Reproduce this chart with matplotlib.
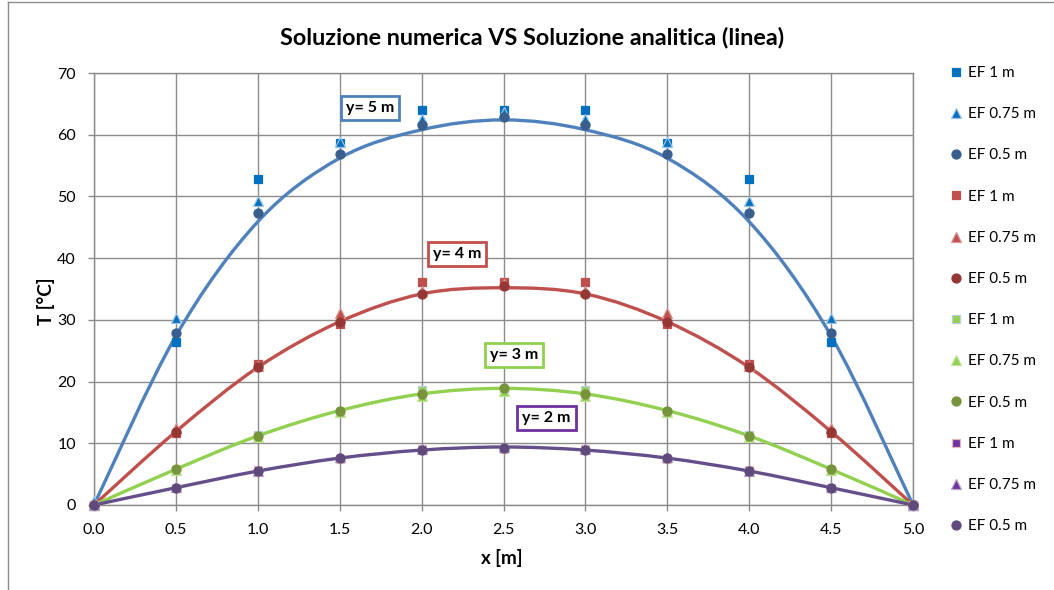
import matplotlib
matplotlib.use("Agg")
import matplotlib.pyplot as plt
from matplotlib.path import Path
from matplotlib.patches import PathPatch
from matplotlib.lines import Line2D

plt.rcParams['font.family'] = ['Lato', 'DejaVu Sans']

# Nodes along x [m]
x_nodes = [0.0, 0.5, 1.0, 1.5, 2.0, 2.5, 3.0, 3.5, 4.0, 4.5, 5.0]

# Analytic solution (smooth lines), T [°C]
an_y5 = [0, 27.4, 45.9, 56.2, 60.8, 62.4, 60.8, 56.2, 45.9, 27.4, 0]
an_y4 = [0, 11.9, 22.3, 29.7, 34.2, 35.2, 34.2, 29.7, 22.3, 11.9, 0]
an_y3 = [0, 5.8, 11.2, 15.3, 18.0, 18.9, 18.0, 15.3, 11.2, 5.8, 0]
an_y2 = [0, 2.8, 5.5, 7.6, 8.9, 9.4, 8.9, 7.6, 5.5, 2.8, 0]

# Finite element results for the three mesh sizes
ef1_y5 = [0, 26.4, 52.8, 58.6, 64.0, 64.0, 64.0, 58.6, 52.8, 26.4, 0]
ef075_y5 = [0.7, 30.3, 49.3, 58.8, 62.5, 63.6, 62.5, 58.8, 49.3, 30.3, 0]
ef05_y5 = [0, 27.8, 47.3, 56.9, 61.6, 62.9, 61.6, 56.9, 47.3, 27.8, 0]

ef1_y4 = [0, 11.6, 22.9, 29.4, 36.2, 36.2, 36.2, 29.4, 22.9, 11.6, 0]
ef075_y4 = [0, 12.4, 22.6, 31.1, 34.6, 35.8, 34.6, 31.1, 22.6, 12.4, 0]
ef05_y4 = [0, 11.9, 22.3, 29.7, 34.2, 35.5, 34.2, 29.7, 22.3, 11.9, 0]

ef1_y3 = [0, 5.7, 11.4, 15.0, 18.6, 18.6, 18.6, 15.0, 11.4, 5.7, 0]
ef075_y3 = [0, 5.6, 11.0, 15.0, 17.7, 18.4, 17.7, 15.0, 11.0, 5.6, 0]
ef05_y3 = [0, 5.8, 11.2, 15.3, 18.0, 18.9, 18.0, 15.3, 11.2, 5.8, 0]

ef1_y2 = [0, 2.8, 5.6, 7.4, 9.1, 9.1, 9.1, 7.4, 5.6, 2.8, 0]
ef075_y2 = [0, 2.9, 5.5, 7.8, 9.0, 9.4, 9.0, 7.8, 5.5, 2.9, 0]
ef05_y2 = [0, 2.8, 5.5, 7.6, 8.9, 9.3, 8.9, 7.6, 5.5, 2.8, 0]

mesh_labels = ["EF 1 m", "EF 0.75 m", "EF 0.5 m"]
row_labels = ["y= 5 m", "y= 4 m", "y= 3 m", "y= 2 m"]
row_label_pos = [(1.685, 64.3), (2.216, 40.7), (2.564, 24.3), (2.76, 14.1)]

x_ticks = [0.0, 0.5, 1.0, 1.5, 2.0, 2.5, 3.0, 3.5, 4.0, 4.5, 5.0]
y_ticks = [0, 10, 20, 30, 40, 50, 60, 70]

rows = [
    dict(an=an_y5, ef=[ef1_y5, ef075_y5, ef05_y5], line="#4F81BD", box="#4F81BD",
         fill=["#0070C0", "#0070C0", "#3A5F8E"], edge=["#0070C0", "#9DC3E6", "#3A5F8E"]),
    dict(an=an_y4, ef=[ef1_y4, ef075_y4, ef05_y4], line="#C0504D", box="#C0504D",
         fill=["#C0504D", "#C0504D", "#953735"], edge=["#C0504D", "#D99694", "#953735"]),
    dict(an=an_y3, ef=[ef1_y3, ef075_y3, ef05_y3], line="#92D050", box="#92D050",
         fill=["#92D050", "#92D050", "#77933C"], edge=["#B9CDE5", "#C3E29C", "#77933C"]),
    dict(an=an_y2, ef=[ef1_y2, ef075_y2, ef05_y2], line="#654F8B", box="#7030A0",
         fill=["#7030A0", "#7030A0", "#604A7B"], edge=["#E6B9B8", "#B3A2C7", "#604A7B"]),
]
markers = ["s", "^", "o"]
msizes = [6.0, 7.8, 6.5]


def smooth_path(xs, ys):
    """Bezier path through the points (Catmull-Rom style tangents)."""
    pts = list(zip(xs, ys))
    n = len(pts)
    verts = [pts[0]]
    codes = [Path.MOVETO]
    for i in range(n - 1):
        p0 = pts[i - 1] if i > 0 else pts[i]
        p1 = pts[i]
        p2 = pts[i + 1]
        p3 = pts[i + 2] if i + 2 < n else pts[i + 1]
        c1 = (p1[0] + (p2[0] - p0[0]) / 6.0, p1[1] + (p2[1] - p0[1]) / 6.0)
        c2 = (p2[0] - (p3[0] - p1[0]) / 6.0, p2[1] - (p3[1] - p1[1]) / 6.0)
        verts += [c1, c2, p2]
        codes += [Path.CURVE4] * 3
    return Path(verts, codes)


W, H = 1054, 590
fig = plt.figure(figsize=(W / 100, H / 100), dpi=100)
ax = fig.add_axes([94 / W, 1 - 505 / H, (913 - 94) / W, (505 - 73) / H])

ax.set_xlim(0, 5)
ax.set_ylim(0, 70)
ax.set_xticks(x_ticks)
ax.set_xticklabels([f"{v:.1f}" for v in x_ticks])
ax.set_yticks(y_ticks)
ax.set_yticklabels([str(v) for v in y_ticks])
ax.grid(True, color="#8C8C8C", linewidth=1.0)
ax.set_axisbelow(True)
for side in ["left", "bottom", "top", "right"]:
    ax.spines[side].set_color("#8C8C8C")
    ax.spines[side].set_linewidth(1.0)
ax.tick_params(axis="both", direction="out", length=4, width=1, color="#8C8C8C",
               labelsize=11.5, labelcolor="#000000")
ax.tick_params(axis="y", pad=9)
ax.tick_params(axis="x", pad=9)

# Analytic solution lines
for r in rows:
    ax.add_patch(PathPatch(smooth_path(x_nodes, r["an"]), facecolor="none",
                           edgecolor=r["line"], linewidth=2.4, zorder=3,
                           capstyle="round", joinstyle="round"))

# Numerical results
handles = []
for r in rows:
    for k in range(3):
        h, = ax.plot(x_nodes, r["ef"][k], linestyle="none", marker=markers[k],
                     markersize=msizes[k], markerfacecolor=r["fill"][k],
                     markeredgecolor=r["edge"][k], markeredgewidth=0.9,
                     label=mesh_labels[k], zorder=4, clip_on=False)
        handles.append(h)

# Row labels in framed boxes
for r, lab, (lx, ly) in zip(rows, row_labels, row_label_pos):
    ax.text(lx, ly, lab, ha="center", va="center", fontsize=11.5, fontweight="bold",
            zorder=6,
            bbox=dict(boxstyle="square,pad=0.33", facecolor="white",
                      edgecolor=r["box"], linewidth=2.0))

# Axis titles
fig.text(502 / W, 1 - 558 / H, "x [m]", ha="center", va="center",
         fontsize=13.5, fontweight="bold")
fig.text(46 / W, 1 - 301 / H, "T [°C]", ha="center", va="center", rotation=90,
         fontsize=13.5, fontweight="bold")

fig.text(532 / W, 1 - 37 / H, "Soluzione numerica VS Soluzione analitica (linea)",
         ha="center", va="center", fontsize=16.8, fontweight="bold")

ax.legend(handles=handles, loc="upper left", bbox_to_anchor=(944 / W, 1 - 60 / H),
          bbox_transform=fig.transFigure, frameon=False, fontsize=11,
          labelspacing=1.78, handlelength=0.8, handletextpad=0.4, borderaxespad=0)

# Outer chart frame (left and top edges)
fig.add_artist(Line2D([7.5 / W, 7.5 / W], [0, 1 - 1.5 / H], transform=fig.transFigure,
                      color="#8C8C8C", linewidth=1.0))
fig.add_artist(Line2D([7.5 / W, 1], [1 - 1.5 / H, 1 - 1.5 / H], transform=fig.transFigure,
                      color="#8C8C8C", linewidth=1.0))

fig.savefig("out.png", dpi=100)
